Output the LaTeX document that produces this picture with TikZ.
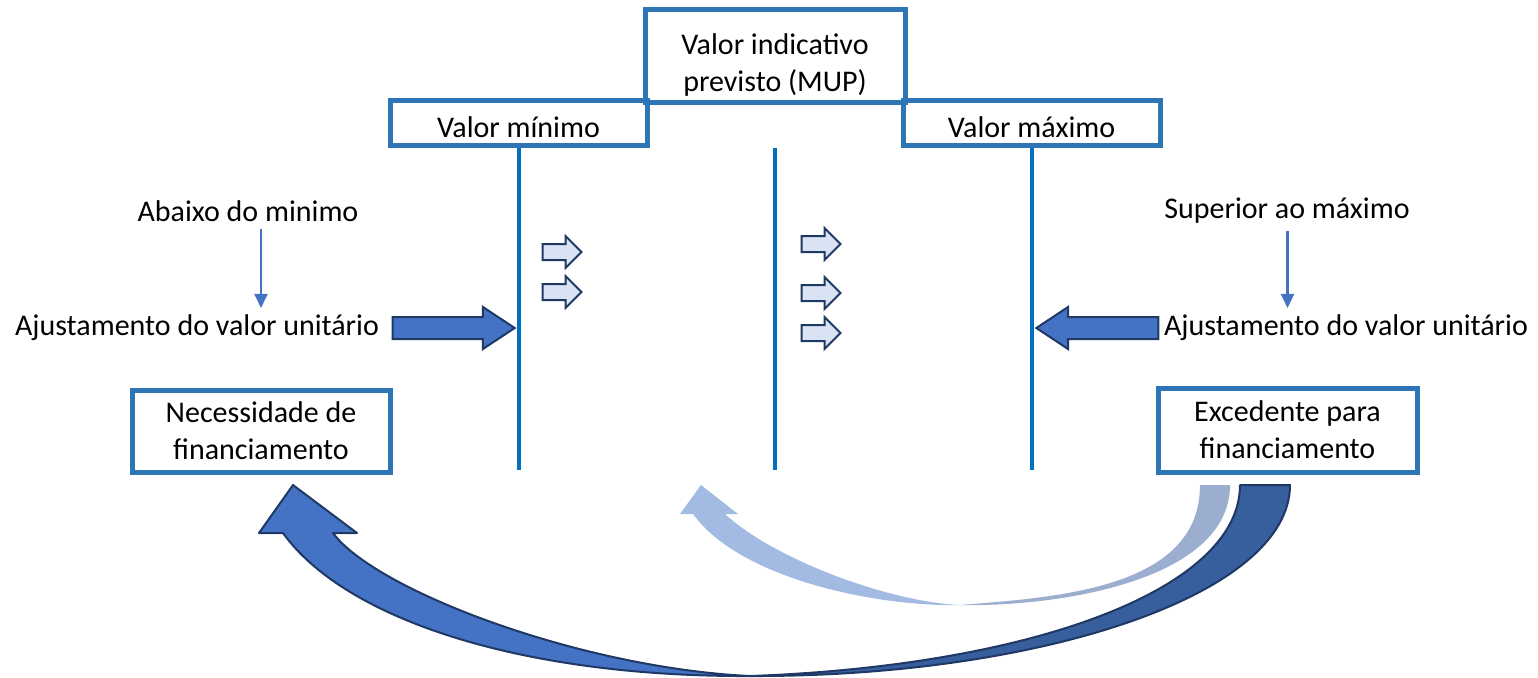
\documentclass[tikz,border=0pt]{standalone}
\usepackage{fontspec}
\setmainfont{Carlito}
\usepackage{tikz}
\usetikzlibrary{shapes.arrows,arrows.meta}

\definecolor{boxblue}{HTML}{2E75B6}
\definecolor{lineblue}{HTML}{0070C0}
\definecolor{accent}{HTML}{4472C4}
\definecolor{navy}{HTML}{1F3864}
\definecolor{paleblue}{HTML}{DAE3F3}
\definecolor{darkband}{HTML}{375E9D}
\definecolor{lightfront}{HTML}{A3BBE3}
\definecolor{lightback}{HTML}{9BAED0}

\begin{document}
\begin{tikzpicture}[x=0.5pt, y=-0.5pt,
  txt/.style={font=\fontsize{15}{18.5}\selectfont},
  box/.style={txt, draw=boxblue, line width=2.5pt, align=center},
  vline/.style={draw=lineblue, line width=2pt},
  thinarrow/.style={draw=accent, line width=1.2pt, -{Triangle[width=6.5pt,length=7pt]}},
  blockarrow/.style={single arrow, draw=navy, fill=accent, line width=1pt, inner sep=5pt,
    single arrow head extend=5pt, single arrow tip angle=67, minimum height=61pt},
  smallarrow/.style={single arrow, draw=navy, fill=paleblue, line width=1pt, inner sep=3.5pt,
    single arrow head extend=4pt, minimum height=19.5pt},
  bandfront/.style={fill=accent, draw=navy, line width=1pt, line join=round},
  bandback/.style={fill=darkband, draw=navy, line width=1pt, line join=round}]

\useasboundingbox (0,0) rectangle (1538,677);

% kaesten oben
\node[box, minimum width=130pt, minimum height=44pt] (MUP) at (775,56) {\rule{0pt}{19pt}Valor indicativo\\previsto (MUP)};
\node[box, minimum width=128.5pt, minimum height=22.5pt] (Min) at (518.5,122.5) {\rule{0pt}{15pt}Valor mínimo};
\node[box, minimum width=128.5pt, minimum height=22.5pt] (Max) at (1031.5,122.5) {\rule{0pt}{15pt}Valor máximo};

% linke seite
\node[txt] (TL) at (248,211) {Abaixo do minimo};
\node[txt] (AL) at (197,328) {Ajustamento do valor unitário};
\node[box, minimum width=129pt, minimum height=41pt] (NF) at (261,431) {Necessidade de\\financiamento};

% rechte seite
\node[txt] (TR) at (1287,211) {Superior ao máximo};
\node[txt] (AR) at (1346,328) {Ajustamento do valor unitário};
\node[box, minimum width=129.5pt, minimum height=42pt] (EF) at (1287.5,430) {Excedente para\\financiamento};

\draw[thinarrow] (TL.south -| NF) -- (AL.north -| NF);
\draw[thinarrow] (TR.south -| EF) -- (AR.north -| EF);

\node[blockarrow, anchor=tip] (PL) at ([xshift=-1pt]Min.south |- AL) {};
\node[blockarrow, shape border rotate=180, anchor=tip] (PR) at ([xshift=1.5pt]Max.south |- AR) {};

% kleine pfeile
\node[smallarrow] (S1) at (558,252) {};
\node[smallarrow] (S2) at (558,292) {};
\node[smallarrow] (S3) at (817,244) {};
\node[smallarrow] (S4) at (817,293) {};
\node[smallarrow] (S5) at (817,333) {};

% senkrechte linien
\coordinate (bot) at (0,470);
\draw[vline] (Min.south) -- (Min.south |- bot);
\draw[vline] (Min.south -| MUP.south) -- (MUP.south |- bot);
\draw[vline] (Max.south) -- (Max.south |- bot);

% grosser bogen
\coordinate (M) at (750,676);
\filldraw[bandback] (M) .. controls (1040,677) and (1290,595) .. (1290,485) -- (1240,485)
  .. controls (1240,590) and (1030,666) .. (M) -- cycle;
\filldraw[bandfront] (259,533) -- (293,485) -- (357,533) -- (333,533)
  .. controls (375,590) and (580,668) .. (M) .. controls (518,677) and (344,618) .. (283,533) -- cycle;

% heller bogen
\coordinate (N) at (960,605);
\fill[lightback] (N) .. controls (1060,607) and (1230,580) .. (1230,485) -- (1200,485)
  .. controls (1200,588) and (1060,597) .. (N) -- cycle;
\fill[lightfront] (680,514) -- (701,485) -- (738,514) -- (725,514)
  .. controls (775,560) and (890,602) .. (N) .. controls (880,607) and (741,580) .. (693,514) -- cycle;

\end{tikzpicture}
\end{document}
